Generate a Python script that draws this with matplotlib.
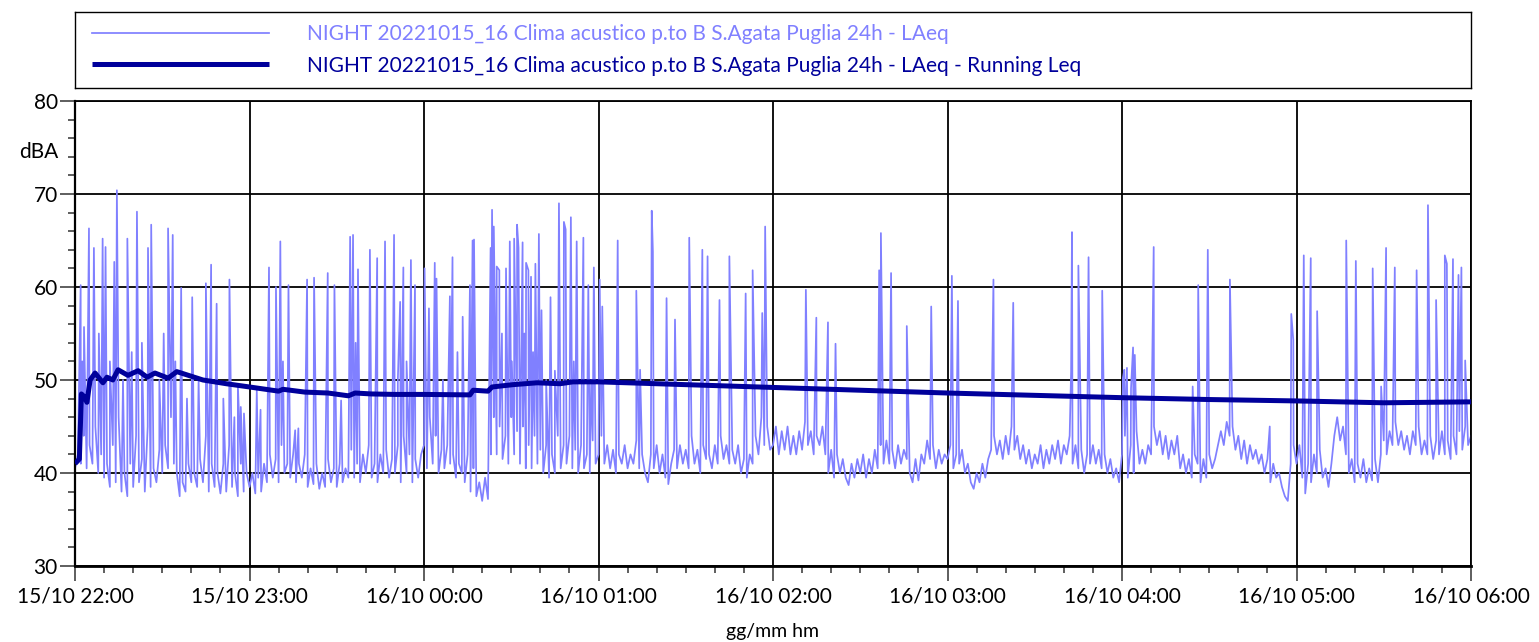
import numpy as np
import matplotlib
matplotlib.use("Agg")
import matplotlib.pyplot as plt
import matplotlib.dates as mdates
from matplotlib.ticker import MultipleLocator

plt.rcParams['font.family'] = ['Lato', 'DejaVu Sans']

# ---------------- data ----------------
START = np.datetime64('2022-10-15T22:00:00')

# background LAeq, one reading per minute from 22:00 (minute 0) to 06:00 (minute 480)
base_db = [
    # 22:00 - 23:00
    40.5, 42, 41, 44, 40.5, 43, 41, 45, 40, 42, 39.5, 41, 38.5, 43, 39, 46, 38, 40, 37.5, 41,
    38.5, 44, 39, 41.5, 38, 45, 38.5, 40.5, 39, 42.5, 40, 43, 40.5, 46, 41, 40, 37.5, 39, 38, 41,
    39, 40, 38.5, 41.5, 39, 44, 38, 41, 38.5, 40, 37.8, 41, 38, 43, 38.5, 40, 37.5, 41, 38, 40,
    # 23:00 - 00:00
    38.5, 40, 37.8, 39.5, 38, 41, 39, 42, 39.5, 41.5, 39, 43, 40, 41, 39.5, 42, 39, 41, 39.5, 42,
    38.5, 40.5, 38.8, 41, 38.3, 40, 38.5, 41.5, 39, 40.5, 38.5, 41, 39, 40.5, 39.5, 42.5, 39.5, 41, 39, 42,
    40, 43, 39.5, 41, 39, 42, 40, 42.5, 39.5, 41.5, 40, 43, 39, 44, 40, 42, 39, 41.5, 39.5, 42,
    # 00:00 - 01:00
    43, 40.5, 46, 41, 44, 40, 42.5, 40.5, 43, 41, 42, 39.5, 41, 40, 39, 42, 38, 40.5, 37.5, 39,
    37, 39.5, 37.2, 42, 46, 42, 45, 41.5, 44, 41, 46, 42, 44.5, 41, 45, 40.5, 43, 40.5, 44, 41,
    42.5, 40, 43, 39.5, 42, 40, 44, 40.5, 43, 41, 44, 40.5, 42.5, 40, 43, 40.5, 42, 40, 43.5, 41,
    # 01:00 - 02:00
    42, 44, 41, 43, 40.5, 42.5, 40, 42, 41, 43, 40.5, 42, 41, 43.5, 40.5, 42, 40, 39, 42, 40.5,
    43, 40, 42, 39.5, 38.8, 41, 42.5, 40.5, 43, 41, 42.5, 40.5, 44, 41, 42.5, 40, 43, 41.5, 42, 40.5,
    43, 41, 44, 41.5, 43, 41, 42.5, 41, 43, 40, 41.5, 39.5, 42, 41, 44, 42, 46, 43, 45, 42.5,
    # 02:00 - 03:00
    43, 45, 42, 44.5, 42.5, 45, 42, 44, 42, 44.5, 42.5, 45.5, 43, 44.5, 42, 44, 43, 45, 42, 40,
    42.5, 39.5, 42, 40, 41.5, 39.5, 38.7, 41, 39.5, 41.5, 40, 42, 39.5, 41.5, 40, 42.5, 40.5, 43, 41, 43.5,
    41, 42.5, 40.5, 43, 41, 42.5, 41.5, 40, 39, 41.5, 39.2, 42, 41, 43.5, 41.5, 43, 40.5, 42.5, 41, 42,
    # 03:00 - 04:00
    41.5, 43, 40.5, 42, 41, 42.5, 40, 41, 39, 38.3, 40, 39, 41, 39.5, 41.5, 42.5, 44, 42, 43.5, 41.5,
    44, 42, 45, 42.5, 44, 41.5, 43, 41, 42.5, 40.5, 42, 41, 43, 40.5, 42.5, 41, 43, 41.5, 43.5, 41,
    43, 42, 44, 41, 43, 40.5, 42.5, 40, 42, 41, 43, 41, 42.5, 40.5, 42, 40, 41.5, 39.5, 40.5, 39,
    # 04:00 - 05:00
    42, 44, 39.5, 43, 40, 44.5, 41, 42.5, 41, 43, 42, 45, 43, 44.5, 42, 44, 41.5, 43.5, 42, 44,
    40.5, 42, 40, 41.5, 39.5, 42, 41, 39, 41.5, 39.5, 42, 40.5, 41.5, 43, 44.5, 43, 45.5, 44, 45, 42.5,
    44, 41.5, 43.5, 41, 43, 41.5, 42.5, 41, 42, 40, 41.5, 39, 41, 39.5, 40, 38.5, 37.5, 37, 41, 43,
    # 05:00 - 06:00
    41, 43, 39.5, 37.8, 41, 39, 42, 40, 42.5, 39.5, 40.5, 38.5, 41, 44, 46, 43.5, 45, 42, 40, 41.5,
    39, 41, 39.5, 41.5, 39, 40.5, 39.2, 41.5, 39, 42, 43.5, 42, 44.5, 43, 45.5, 43, 44.5, 42.5, 44, 42,
    44.5, 43, 45, 42, 43.5, 42, 44, 41.5, 43.5, 42, 44.5, 42, 43.5, 41.5, 44, 42, 44.5, 42.5, 45, 43,
    44,
]

# short noise events (minute after 22:00, peak LAeq)
spike_min = [
    1.95, 2.5, 3.1, 4.8, 6.5, 8.2, 9.5, 10.5, 12.0, 13.5, 14.4, 16.5, 18.0, 19.5, 21.3, 23.0,
    25.1, 26.2, 29.0, 30.5, 32.0, 33.6, 34.5, 36.5, 38.5, 40.3, 42.5, 45.0, 46.8, 48.7, 51.0,
    53.1, 54.8, 56.0, 57.0, 58.1,
    62.5, 63.8, 66.7, 69.1, 70.6, 71.5, 73.4, 75.7, 76.8, 79.8, 82.2, 86.9, 89.2, 91.5, 94.6,
    95.6, 96.5, 97.3, 101.4, 103.9, 106.6, 109.7, 111.0, 111.8, 112.9, 114.0, 115.5, 116.9,
    120.2, 121.7, 123.7, 124.3, 126.5, 128.9, 129.8, 131.5, 133.3, 135.8, 136.7, 137.2, 142.9,
    143.4, 144.0, 145.0, 145.9, 146.8, 148.2, 149.5, 150.2, 151.0, 152.0, 152.5, 153.9, 154.5,
    155.1, 155.9, 156.8, 157.5, 158.3, 159.5, 160.4, 162.0, 163.5, 165.0, 166.4, 168.1, 168.7,
    170.5, 171.5, 172.5, 174.8, 176.5, 177.5, 178.4,
    180.4, 181.3, 186.6, 193.0, 194.3, 198.3, 198.7, 203.4, 206.3, 211.2, 215.7, 217.5, 221.6,
    225.0, 230.6, 233.0, 236.3, 237.3,
    251.3, 254.9, 258.9, 261.5, 276.5, 277.1, 280.6, 286.0, 294.4,
    301.5, 303.6, 315.8, 322.6, 342.5, 342.8, 345.0, 348.5, 353.2,
    360.3, 360.8, 361.7, 363.1, 363.8, 364.4, 370.9, 384.3, 386.2, 389.5, 397.1, 410.8, 418.2,
    418.9,
    422.5, 424.9, 427.1, 437.1, 440.4, 446.2, 449.1, 450.8, 453.8, 461.3, 465.2, 468.0, 471.0,
    471.7, 473.8, 475.7, 476.7, 478.0,
]
spike_db = [
    60.2, 52.0, 55.7, 66.3, 64.2, 55.0, 65.2, 64.3, 52.0, 62.7, 70.4, 50.0, 65.2, 53.0, 68.1, 54.0,
    64.2, 66.7, 50.0, 55.0, 66.3, 65.6, 52.0, 59.9, 48.0, 58.9, 50.0, 60.4, 62.4, 58.2, 48.0,
    60.8, 46.0, 49.5, 47.1, 46.4,
    48.9, 46.8, 62.1, 60.0, 64.9, 52.0, 60.2, 44.6, 44.8, 60.8, 61.0, 61.5, 60.2, 47.8, 65.4,
    65.6, 54.0, 61.9, 64.0, 63.1, 64.9, 65.6, 50.0, 58.4, 62.1, 52.0, 62.9, 60.2,
    62.0, 57.7, 62.6, 60.9, 50.0, 59.0, 63.2, 53.0, 56.8, 60.2, 65.0, 65.1, 64.2,
    68.3, 66.5, 62.2, 61.8, 55.0, 62.0, 64.9, 52.0, 65.2, 66.7, 64.2, 64.8, 55.0,
    62.6, 61.8, 61.1, 53.0, 62.5, 65.7, 57.5, 50.0, 58.9, 51.0, 69.0, 67.0, 66.2,
    67.5, 52.0, 64.9, 65.3, 60.2, 50.0, 62.1,
    60.8, 57.9, 65.0, 59.6, 51.1, 68.2, 63.8, 58.8, 56.5, 65.3, 64.0, 63.3, 58.6,
    63.3, 59.3, 61.8, 57.2, 66.5,
    59.7, 56.7, 56.2, 53.9, 61.8, 65.8, 61.5, 55.8, 57.9,
    61.2, 58.5, 60.8, 58.3, 50.9, 65.9, 62.3, 63.2, 59.6,
    50.2, 51.1, 51.3, 49.1, 53.5, 52.7, 64.3, 49.3, 60.2, 64.0, 60.8, 45.0, 57.1,
    54.3,
    63.4, 63.1, 57.4, 65.0, 62.8, 62.0, 49.3, 64.2, 62.1, 61.8, 68.8, 58.6, 63.4,
    62.5, 63.0, 61.3, 62.1, 52.1,
]

# running Leq (minute after 22:00, dB)
leq_min = [0, 1.5, 2.2, 3.2, 4.1, 5.2, 6.9, 9.6, 11, 13, 14.8, 18.2, 21.7, 24.8, 27.5, 32, 35,
           44, 52, 60, 70, 71.5, 79, 87, 94, 96.3, 102, 110, 120, 135.8, 136.9, 142, 143.4,
           150.6, 158.9, 166.8, 171.2, 180, 210, 240, 270, 300, 330, 360, 390, 420, 450, 480]
leq_db = [41.0, 41.5, 48.5, 48.2, 47.6, 50.0, 50.75, 49.7, 50.3, 50.0, 51.1, 50.5, 51.0, 50.3,
          50.75, 50.2, 50.9, 50.0, 49.6, 49.25, 48.8, 49.0, 48.7, 48.6, 48.3, 48.6, 48.5, 48.45,
          48.45, 48.4, 48.9, 48.8, 49.25, 49.5, 49.7, 49.6, 49.8, 49.8, 49.5, 49.2, 48.9, 48.6,
          48.35, 48.1, 47.9, 47.75, 47.55, 47.65]

label_laeq = "NIGHT 20221015_16 Clima acustico p.to B S.Agata Puglia 24h - LAeq"
label_leq = "NIGHT 20221015_16 Clima acustico p.to B S.Agata Puglia 24h - LAeq - Running Leq"

# ---------------- build series ----------------
def to_time(minutes):
    sec = np.round(np.asarray(minutes, dtype=float) * 60).astype(np.int64)
    return START + sec.astype('timedelta64[s]')

base_min = np.arange(len(base_db))
t_all = np.concatenate([base_min, np.asarray(spike_min, dtype=float)])
v_all = np.concatenate([np.asarray(base_db, dtype=float), np.asarray(spike_db, dtype=float)])
order = np.argsort(t_all, kind='stable')
t_all, v_all = t_all[order], v_all[order]

# ---------------- figure ----------------
W, H = 1539, 642
fig = plt.figure(figsize=(W / 100, H / 100), dpi=100)
ax = fig.add_axes([75 / W, (H - 566) / H, 1396 / W, 465 / H])

light = '#8080ff'
dark = '#00009b'
l1, = ax.plot(to_time(t_all), v_all, color=light, lw=1.25, label=label_laeq, zorder=2)
l2, = ax.plot(to_time(leq_min), leq_db, color=dark, lw=3.6, label=label_leq, zorder=3,
              solid_capstyle='butt')

ax.set_xlim(to_time(0), to_time(480))
ax.set_ylim(30, 80)
ax.yaxis.set_major_locator(MultipleLocator(10))
ax.yaxis.set_minor_locator(MultipleLocator(2))
ax.xaxis.set_major_locator(mdates.HourLocator())
ax.xaxis.set_minor_locator(mdates.MinuteLocator(byminute=range(0, 60, 10)))
ax.xaxis.set_major_formatter(mdates.DateFormatter('%d/%m %H:%M'))

ax.set_axisbelow(True)
ax.grid(which='major', color='black', lw=1.3)
for s in ax.spines.values():
    s.set_color('black')
    s.set_linewidth(1.3)
ax.spines['bottom'].set_linewidth(2.0)
ax.spines['left'].set_linewidth(1.6)

ax.tick_params(axis='both', which='major', length=10.5, width=1.1, labelsize=15, color='#333333')
ax.tick_params(axis='both', which='minor', length=5, width=1.1, color='#333333')
ax.tick_params(axis='y', which='major', pad=2)
ax.tick_params(axis='x', which='major', pad=4)

fig.text(39 / W, 1 - 152 / H, 'dBA', ha='center', va='center', fontsize=15)
fig.text(773 / W, 1 - 632 / H, 'gg/mm hm', ha='center', va='center', fontsize=14)

# legend box
axl = fig.add_axes([75 / W, (H - 88) / H, 1396 / W, 76 / H])
axl.set_xticks([])
axl.set_yticks([])
for s in axl.spines.values():
    s.set_color('black')
    s.set_linewidth(1.0)
axl.legend(handles=[l1, l2], loc='center left', bbox_to_anchor=(17 / 1396, 0.5),
           frameon=False, borderaxespad=0, borderpad=0, handlelength=8.5,
           handletextpad=1.8, labelspacing=0.55, fontsize=15, labelcolor='linecolor')
for line in axl.get_legend().get_lines():
    pass

fig.savefig('out.png', dpi=100)
